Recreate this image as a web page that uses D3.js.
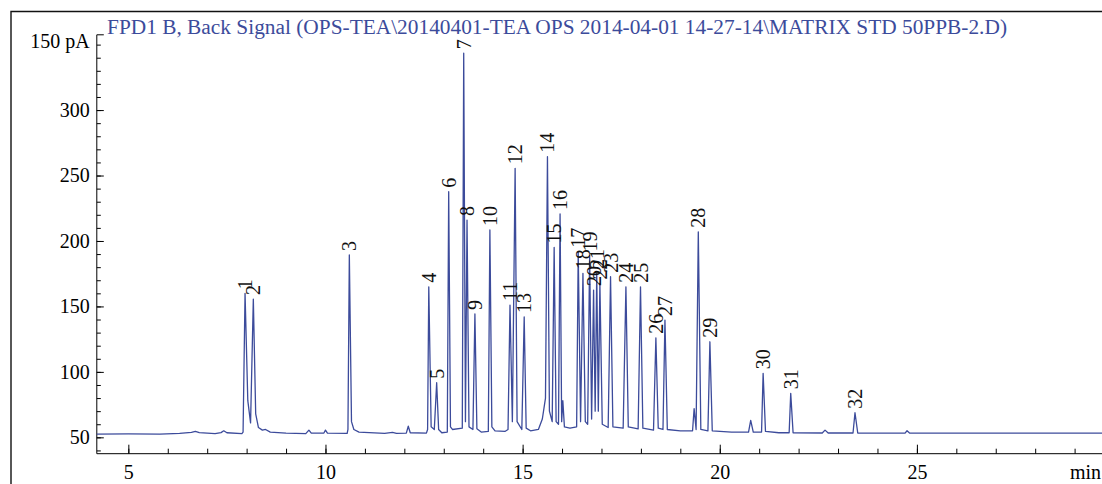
<!DOCTYPE html>
<html>
<head>
<meta charset="utf-8">
<script src="https://cdnjs.cloudflare.com/ajax/libs/d3/7.8.5/d3.min.js"></script>
<style>
  html, body { margin: 0; padding: 0; background: #fff; }
  svg { display: block; font-family: "Liberation Serif", "DejaVu Serif", serif; }
</style>
</head>
<body>
<svg width="1102" height="484"></svg>
<script>
var title = "FPD1 B, Back Signal (OPS-TEA\\20140401-TEA OPS 2014-04-01 14-27-14\\MATRIX STD 50PPB-2.D)";

// labelled peaks: retention time (min) and apex height (pA)
var peakLabels = ["1", "2", "3", "4", "5", "6", "7", "8", "9", "10", "11", "12", "13", "14", "15", "16",
  "17", "18", "19", "20", "21", "22", "23", "24", "25", "26", "27", "28", "29", "30", "31", "32"];
var peakTimes = [7.96, 8.17, 10.605, 12.62, 12.82, 13.125, 13.506, 13.59, 13.79, 14.17, 14.68, 14.81,
  15.04, 15.63, 15.8, 15.95, 16.41, 16.53, 16.7, 16.8, 16.88, 16.96, 17.23, 17.62, 17.99, 18.38,
  18.61, 19.456, 19.75, 21.1, 21.8, 23.43];
var peakHeights = [160, 155.6, 189.3, 165, 91.7, 237.6, 343.4, 216, 144.2, 208.4, 151, 255.5,
  142, 264.4, 195, 220.6, 191.8, 175.3, 189, 162.5, 175.5, 167.6, 172.7, 165, 165, 126,
  139.6, 207, 123, 98.9, 83.6, 68.8];

// signal trace [min, pA]
var trace = [
  [4.2, 52.5], [5.0, 52.6], [5.8, 52.4], [6.3, 53], [6.6, 53.8], [6.7, 54.5], [6.8, 53.6], [7.2, 52.8],
  [7.35, 53.6], [7.42, 55], [7.5, 53.5], [7.88, 52.8],
  [7.91, 54], [7.96, 160], [8.03, 78], [8.1, 61], [8.17, 155.6], [8.23, 68], [8.3, 57.5], [8.4, 55.5],
  [8.48, 56], [8.6, 54], [9.0, 53.2], [9.5, 52.8], [9.58, 55.5], [9.64, 53.2], [9.96, 53.3], [10.0, 55.5],
  [10.05, 53.2], [10.55, 53],
  [10.57, 56], [10.605, 189.3], [10.66, 62], [10.72, 56], [10.85, 54], [11.5, 53], [11.7, 53.8], [11.8, 53],
  [12.05, 53.2], [12.1, 58.5], [12.15, 53.5], [12.56, 53.2],
  [12.59, 56], [12.62, 165], [12.68, 58], [12.76, 56], [12.82, 91.7], [12.87, 56], [12.95, 53.5],
  [13.09, 54], [13.125, 237.6], [13.17, 58], [13.22, 56], [13.47, 57], [13.506, 343.4], [13.55, 62],
  [13.59, 216], [13.64, 58], [13.74, 56], [13.79, 144.2], [13.84, 56.5], [13.95, 54], [14.13, 54.5],
  [14.17, 208.4], [14.22, 58], [14.3, 55], [14.55, 54.5], [14.63, 56], [14.68, 151], [14.74, 62],
  [14.81, 255.5], [14.86, 62], [14.98, 56], [15.04, 142], [15.09, 57], [15.2, 55], [15.4, 56],
  [15.5, 64], [15.58, 80], [15.63, 264.4], [15.68, 70], [15.75, 62], [15.8, 195], [15.85, 62],
  [15.91, 60], [15.95, 220.6], [15.99, 62], [16.02, 78], [16.06, 58], [16.2, 57], [16.37, 58],
  [16.41, 191.8], [16.47, 62], [16.53, 175.3], [16.59, 62], [16.65, 60], [16.7, 189], [16.75, 64],
  [16.8, 162.5], [16.84, 70], [16.88, 175.5], [16.92, 70], [16.96, 167.6], [17.02, 60], [17.17, 57.5],
  [17.23, 172.7], [17.29, 58], [17.55, 57], [17.62, 165], [17.68, 58], [17.93, 56.5], [17.99, 165],
  [18.05, 57], [18.32, 55.5], [18.38, 126], [18.44, 57], [18.56, 56], [18.61, 139.6], [18.67, 56],
  [19.0, 55], [19.31, 55], [19.35, 72], [19.4, 56], [19.456, 207], [19.52, 56], [19.7, 55],
  [19.75, 123], [19.81, 55], [20.3, 54], [20.73, 54], [20.785, 63], [20.85, 54], [21.06, 54],
  [21.1, 98.9], [21.16, 54.5], [21.5, 53.5], [21.76, 53.5], [21.8, 83.6], [21.86, 53.5], [22.6, 53.3],
  [22.67, 55.5], [22.75, 53.3], [23.38, 53.3], [23.43, 68.8], [23.5, 53.3], [24.7, 53.2], [24.75, 55],
  [24.82, 53.2], [29.7, 53.2]
];

var xMajorTicks = [5, 10, 15, 20, 25];
var yMajorTicks = [50, 100, 150, 200, 250, 300];
var yTopLabel = "150 pA";
var xUnit = "min";

var blue = "#3c4b9b";
var serif = "'Liberation Serif', 'DejaVu Serif', serif";
var svg = d3.select("svg");

var x = d3.scaleLinear().domain([4.2, 29.7]).range([96.8, 1102.2]);
var y = d3.scaleLinear().domain([37.5, 357.5]).range([453.7, 34.8]);

// outer frame
svg.append("path")
  .attr("d", "M11,484V11.5H1102")
  .attr("fill", "none")
  .attr("stroke", "#111")
  .attr("stroke-width", 1.4);

// title
svg.append("text")
  .attr("x", 107)
  .attr("y", 34)
  .attr("fill", blue)
  .attr("textLength", 900)
  .attr("lengthAdjust", "spacingAndGlyphs")
  .style("font-family", serif)
  .style("font-size", "20px")
  .text(title);

// y axis (ticks point inward)
var yMinor = d3.axisLeft(y).tickValues(d3.range(40, 351, 10)).tickSizeInner(-4).tickSizeOuter(0).tickFormat("");
var yMajor = d3.axisLeft(y).tickValues(yMajorTicks).tickSizeInner(-7).tickSizeOuter(0).tickPadding(7);

var gy = svg.append("g").attr("transform", "translate(" + x(4.2) + ",0)");
gy.append("g").call(yMinor);
gy.append("g").call(yMajor);
gy.selectAll("path.domain").remove();
gy.append("line")
  .attr("y1", y(357.5)).attr("y2", y(37.5))
  .attr("stroke", "#000");
gy.append("line")
  .attr("x2", 7).attr("y1", y(357.5)).attr("y2", y(357.5))
  .attr("stroke", "#000");
gy.append("text")
  .attr("x", -7)
  .attr("y", y(352.5))
  .attr("dy", "0.35em")
  .attr("text-anchor", "end")
  .text(yTopLabel);

// x axis (ticks point upward)
var xMinor = d3.axisBottom(x).tickValues(d3.range(5, 30, 1)).tickSizeInner(-5).tickSizeOuter(0).tickFormat("");
var xMajor = d3.axisBottom(x).tickValues(xMajorTicks).tickSizeInner(-9).tickSizeOuter(0).tickPadding(8);

var gx = svg.append("g").attr("transform", "translate(0," + y(37.5) + ")");
gx.append("g").call(xMinor);
gx.append("g").call(xMajor);
gx.selectAll("path.domain").remove();
gx.append("line")
  .attr("x1", x(4.2)).attr("x2", 1102)
  .attr("stroke", "#000");
gx.append("text")
  .attr("x", 1070)
  .attr("y", 18)
  .attr("dy", "0.35em")
  .text(xUnit);

gy.selectAll("text").attr("fill", "#000").style("font-size", "20px").style("font-family", serif);
gx.selectAll("text").attr("fill", "#000").style("font-size", "20px").style("font-family", serif);
gx.selectAll(".tick text").attr("y", 18).attr("dy", "0.35em");

// chromatogram trace
var line = d3.line()
  .x(function(d) { return x(d[0]); })
  .y(function(d) { return y(d[1]); });

svg.append("path")
  .datum(trace)
  .attr("d", line)
  .attr("fill", "none")
  .attr("stroke", blue)
  .attr("stroke-width", 1.3)
  .attr("stroke-linejoin", "round");

// peak numbers, rotated, just above each apex
svg.selectAll("text.peak")
  .data(peakLabels)
  .enter()
  .append("text")
  .attr("class", "peak")
  .attr("transform", function(d, i) {
    return "translate(" + x(peakTimes[i]) + "," + (y(peakHeights[i]) - 4) + ") rotate(-90)";
  })
  .attr("dy", "0.35em")
  .attr("fill", "#111")
  .style("font-family", serif)
  .style("font-size", "20px")
  .text(function(d) { return d; });
</script>
</body>
</html>
